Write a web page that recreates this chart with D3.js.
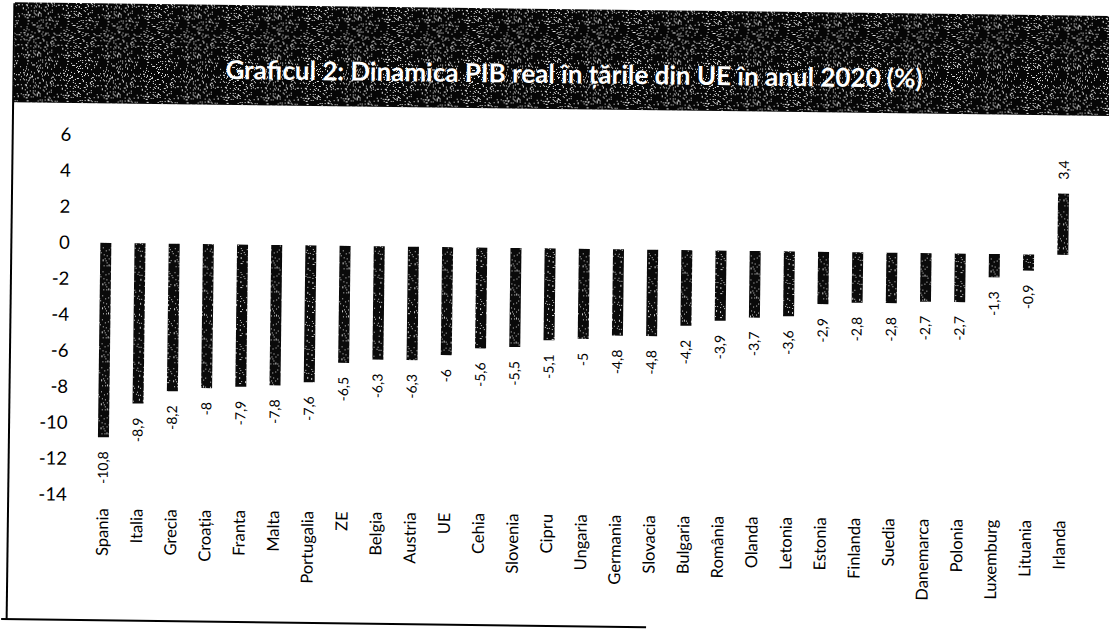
<!DOCTYPE html>
<html>
<head>
<meta charset="utf-8">
<script src="https://cdn.jsdelivr.net/npm/d3@7"></script>
<style>
  html, body { margin: 0; padding: 0; background: #fff; overflow: hidden; }
  svg { display: block; }
  text { font-family: Lato, "Open Sans", sans-serif; fill: #000; }
</style>
</head>
<body>
<svg id="chart" width="1109" height="631"></svg>
<script>
const title = "Graficul 2: Dinamica PIB real în țările din UE în anul 2020 (%)";
const categories = ["Spania","Italia","Grecia","Croația","Franta","Malta","Portugalia","ZE","Belgia","Austria","UE","Cehia","Slovenia","Cipru","Ungaria","Germania","Slovacia","Bulgaria","România","Olanda","Letonia","Estonia","Finlanda","Suedia","Danemarca","Polonia","Luxemburg","Lituania","Irlanda"];
const values = [-10.8,-8.9,-8.2,-8,-7.9,-7.8,-7.6,-6.5,-6.3,-6.3,-6,-5.6,-5.5,-5.1,-5,-4.8,-4.8,-4.2,-3.9,-3.7,-3.6,-2.9,-2.8,-2.8,-2.7,-2.7,-1.3,-0.9,3.4];
const yTicks = [6,4,2,0,-2,-4,-6,-8,-10,-12,-14];

const svg = d3.select("#chart");
const defs = svg.append("defs");

// scan-like dither texture (decorative only): deterministic hash positions
function makeTexture(id, size, bg, count, dotColor, seed) {
  const p = defs.append("pattern").attr("id", id).attr("patternUnits","userSpaceOnUse")
    .attr("width", size).attr("height", size);
  p.append("rect").attr("width", size).attr("height", size).attr("fill", bg);
  let s = seed;
  const next = () => { s = (s * 1103515245 + 12345) % 2147483648; return s / 2147483648; };
  for (let i = 0; i < count; i++) {
    p.append("rect").attr("x", Math.floor(next() * size)).attr("y", Math.floor(next() * size))
      .attr("width", 1).attr("height", 1).attr("fill", dotColor);
  }
}
makeTexture("banner", 40, "#060606", 190, "#e8e8e8", 7);
makeTexture("bars", 24, "#0a0a0a", 40, "#d0d0d0", 11);

const g = svg.append("g").attr("transform","rotate(0.72,555,315)");

// frame lines
g.append("line").attr("x1",10.5).attr("x2",10.5).attr("y1",10).attr("y2",626)
  .attr("stroke","#000").attr("stroke-width",2);
g.append("line").attr("x1",5).attr("x2",650).attr("y1",626).attr("y2",626)
  .attr("stroke","#000").attr("stroke-width",2);

// title banner
g.append("rect").attr("x",11).attr("y",9).attr("width",1120).attr("height",100)
  .attr("fill","url(#banner)");
g.append("text").attr("x",571).attr("y",74).attr("text-anchor","middle")
  .attr("dy","0.35em")
  .style("fill","#fff").style("font-size","26px").style("font-weight","700")
  .text(title);

const x = d3.scalePoint().domain(categories).range([105, 1062]);
const y = d3.scaleLinear().domain([-14, 6]).range([500.5, 140.5]);
const barW = 11;

// y axis
const yAxis = d3.axisLeft(y).tickValues(yTicks).tickSize(0).tickPadding(0)
  .tickFormat(d => String(d));
const ya = g.append("g").attr("transform","translate(69,0)").call(yAxis);
ya.select(".domain").remove();
ya.selectAll("text").style("font-family","Lato, 'Open Sans', sans-serif")
  .style("font-size","18.5px").style("fill","#000");

// bars
const data = categories.map((c,i) => ({c, v: values[i]}));
g.selectAll("rect.bar").data(data).enter().append("rect")
  .attr("class","bar")
  .attr("x", d => x(d.c) - barW/2)
  .attr("width", barW)
  .attr("y", d => y(Math.max(0, d.v)))
  .attr("height", d => Math.abs(y(d.v) - y(0)))
  .attr("fill","url(#bars)");

// value labels
const fmt = v => String(v).replace(".", ",");
g.selectAll("text.val").data(data).enter().append("text")
  .attr("class","val")
  .attr("transform", d => {
    const yy = d.v < 0 ? y(d.v) + 14 : y(d.v) - 14;
    return `translate(${x(d.c)},${yy}) rotate(-90)`;
  })
  .attr("text-anchor", d => d.v < 0 ? "end" : "start")
  .attr("dy","0.35em")
  .style("font-size","14px")
  .text(d => fmt(d.v));

// category labels
g.selectAll("text.cat").data(categories).enter().append("text")
  .attr("class","cat")
  .attr("transform", d => `translate(${x(d)},514) rotate(-90)`)
  .attr("text-anchor","end")
  .attr("dy","0.35em")
  .style("font-size","16.5px")
  .text(d => d);
</script>
</body>
</html>
